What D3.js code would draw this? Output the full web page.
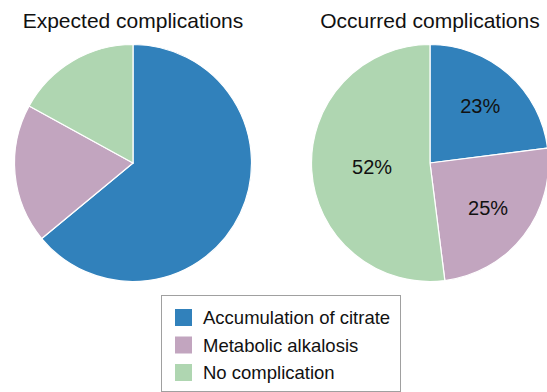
<!DOCTYPE html>
<html>
<head>
<meta charset="utf-8">
<script src="https://cdn.jsdelivr.net/npm/d3@7"></script>
<style>
  html, body { margin: 0; padding: 0; background: #fff; }
  svg { display: block; font-family: "Liberation Sans", Arial, sans-serif; }
</style>
</head>
<body>
<svg id="chart" width="547" height="392"></svg>
<script>
// Complication categories and their shares (%)
const categories = ["Accumulation of citrate", "Metabolic alkalosis", "No complication"];
const colors = ["#3181bb", "#c2a5bf", "#afd6b1"];
const expectedValues = [64, 19, 17];
const occurredValues = [23, 25, 52];
const chartTitles = ["Expected complications", "Occurred complications"];
// Label distance from centre as a fraction of the radius, per slice
const labelDistance = [0.64, 0.62, 0.49];

const svg = d3.select("#chart");
const radius = 118.5;

const pie = d3.pie().sort(null).value(d => d);
const arc = d3.arc().innerRadius(0).outerRadius(radius);

const panels = [
  { title: chartTitles[0], values: expectedValues, cx: 133, cy: 163, labels: false },
  { title: chartTitles[1], values: occurredValues, cx: 430, cy: 163, labels: true }
];

panels.forEach(p => {
  svg.append("text")
    .attr("x", p.cx)
    .attr("y", 28)
    .attr("text-anchor", "middle")
    .attr("font-size", 21)
    .attr("fill", "#111")
    .text(p.title);

  const g = svg.append("g").attr("transform", `translate(${p.cx},${p.cy})`);
  const arcs = pie(p.values);

  g.selectAll("path")
    .data(arcs)
    .join("path")
    .attr("d", arc)
    .attr("fill", (d, i) => colors[i])
    .attr("stroke", "#fff")
    .attr("stroke-width", 1.2);

  if (p.labels) {
    g.selectAll("text.pct")
      .data(arcs)
      .join("text")
      .attr("class", "pct")
      .attr("transform", (d, i) => {
        const r = radius * labelDistance[i];
        const a = (d.startAngle + d.endAngle) / 2;
        return `translate(${Math.sin(a) * r},${-Math.cos(a) * r})`;
      })
      .attr("text-anchor", "middle")
      .attr("dy", "0.36em")
      .attr("font-size", 20)
      .attr("fill", "#111")
      .text(d => d.data + "%");
  }
});

// Legend
const legend = svg.append("g");
legend.append("rect")
  .attr("x", 161.5)
  .attr("y", 295.5)
  .attr("width", 239)
  .attr("height", 96)
  .attr("fill", "#fff")
  .attr("stroke", "#a0a0a0")
  .attr("stroke-width", 1);

const rowY = d3.scalePoint().domain(categories).range([309, 364]);

const rows = legend.selectAll("g.row")
  .data(categories)
  .join("g")
  .attr("class", "row")
  .attr("transform", d => `translate(175,${rowY(d)})`);

rows.append("rect")
  .attr("width", 17)
  .attr("height", 17)
  .attr("fill", (d, i) => colors[i]);

rows.append("text")
  .attr("x", 28)
  .attr("y", 15.3)
  .attr("font-size", 18.5)
  .attr("fill", "#111")
  .text(d => d);
</script>
</body>
</html>
